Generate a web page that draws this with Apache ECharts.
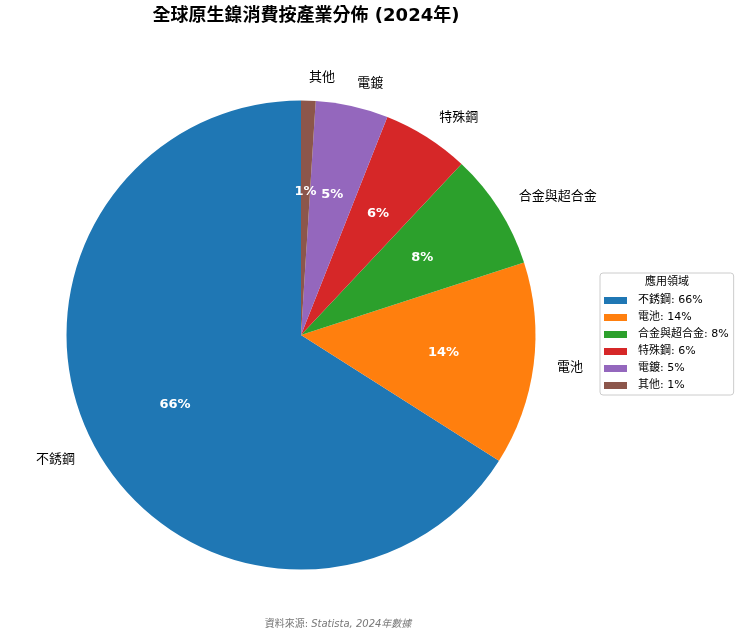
<!DOCTYPE html>
<html>
<head>
<meta charset="utf-8">
<script src="https://cdn.jsdelivr.net/npm/echarts@6/dist/echarts.min.js"></script>
<style>
  html, body { margin: 0; padding: 0; background: #fff; }
  #chart { width: 740px; height: 635px; }
</style>
</head>
<body>
<div id="chart"></div>
<script>
// 產業類別與比例 (%)
var sectors = ['不銹鋼', '電池', '合金與超合金', '特殊鋼', '電鍍', '其他'];
var shares = [66, 14, 8, 6, 5, 1];
var colors = ['#1f77b4', '#ff7f0e', '#2ca02c', '#d62728', '#9467bd', '#8c564b'];

var FONT = '"DejaVu Sans", "Noto Sans CJK TC", sans-serif';
var cx = 301, cy = 335, R = 234.5;

var pieData = sectors.map(function (n, i) {
  return { name: n, value: shares[i], itemStyle: { color: colors[i] } };
});

var chart = echarts.init(document.getElementById('chart'), null, { renderer: 'canvas' });

var option = {
  animation: false,
  color: colors,
  title: [
    {
      text: '全球原生鎳消費按產業分佈 (2024年)',
      left: cx, top: 2, textAlign: 'center',
      textStyle: { fontFamily: FONT, fontSize: 18, fontWeight: 'bold', color: '#000' }
    },
    {
      text: '應用領域',
      left: 667, top: 277, textAlign: 'center', padding: 0,
      textStyle: { fontFamily: FONT, fontSize: 11, fontWeight: 'normal', color: '#000' }
    }
  ],
  legend: {
    orient: 'vertical',
    left: 600, top: 273,
    padding: [19, 5, 1, 4],
    itemGap: 0,
    itemWidth: 23, itemHeight: 7,
    icon: 'rect',
    borderColor: '#cccccc', borderWidth: 1, borderRadius: 3,
    selectedMode: false,
    data: sectors,
    formatter: function (name) {
      return name + ': ' + shares[sectors.indexOf(name)] + '%';
    },
    textStyle: { fontFamily: FONT, fontSize: 11, color: '#000', lineHeight: 17, padding: [0, 0, 0, 6] }
  },
  graphic: [{
    type: 'text',
    x: 338, y: 624,
    style: {
      text: '{a|資料來源: }{b|Statista, 2024年數據}',
      align: 'center', verticalAlign: 'middle',
      rich: {
        a: { fontFamily: FONT, fontSize: 10, fontStyle: 'normal', fill: '#777' },
        b: { fontFamily: FONT, fontSize: 10, fontStyle: 'italic', fill: '#777' }
      }
    }
  }],
  series: [
    {
      type: 'pie',
      center: [cx, cy],
      radius: [0, R],
      startAngle: 90,
      clockwise: false,
      avoidLabelOverlap: false,
      silent: true,
      data: pieData,
      label: {
        show: true,
        position: 'outside',
        formatter: '{b}',
        fontFamily: FONT, fontSize: 13, color: '#000',
        distanceToLabelLine: 0
      },
      labelLine: { show: false, length: R * 0.1, length2: 0 },
      emphasis: { disabled: true }
    },
    {
      type: 'pie',
      center: [cx, cy],
      radius: [0, R * 1.2],
      startAngle: 90,
      clockwise: false,
      avoidLabelOverlap: false,
      silent: true,
      data: sectors.map(function (n, i) { return { name: n, value: shares[i] }; }),
      itemStyle: { color: 'rgba(0,0,0,0)' },
      label: {
        show: true,
        position: 'inside',
        formatter: '{c}%',
        fontFamily: FONT, fontSize: 13, fontWeight: 'bold', color: '#fff'
      },
      labelLine: { show: false },
      emphasis: { disabled: true }
    }
  ]
};

chart.setOption(option);
</script>
</body>
</html>
